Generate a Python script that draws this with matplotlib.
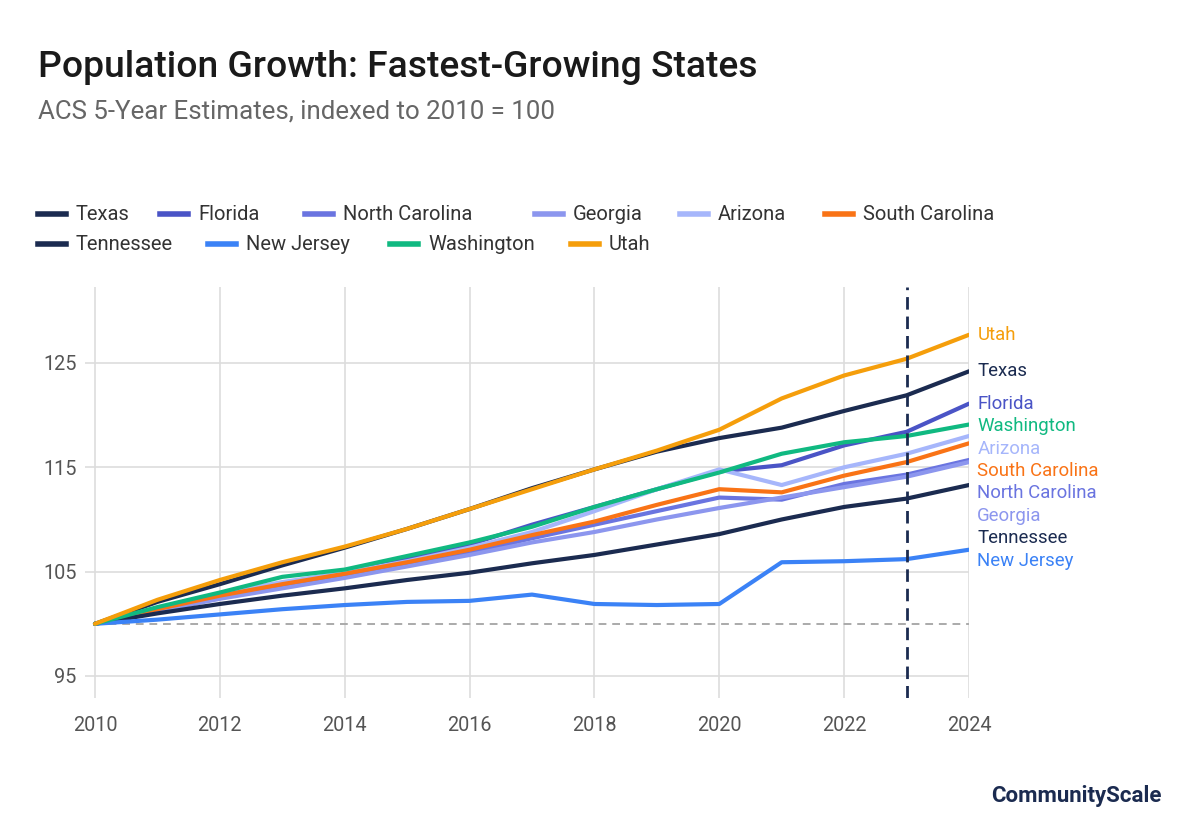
import matplotlib
matplotlib.use("Agg")
import matplotlib.pyplot as plt
from matplotlib.lines import Line2D

plt.rcParams['font.family'] = ['Roboto', 'DejaVu Sans']

years = list(range(2010, 2025))

states = ["Texas", "Florida", "North Carolina", "Georgia", "Arizona",
          "South Carolina", "Tennessee", "New Jersey", "Washington", "Utah"]

texas = [100, 102.1, 103.8, 105.6, 107.3, 109.1, 111.0, 113.0, 114.8, 116.5, 117.8, 118.8, 120.4, 121.9, 124.2]
florida = [100, 101.4, 102.6, 103.8, 104.8, 106.2, 107.6, 109.5, 111.2, 112.9, 114.6, 115.2, 117.1, 118.4, 121.1]
north_carolina = [100, 101.3, 102.5, 103.6, 104.6, 105.7, 106.8, 108.2, 109.5, 110.8, 112.1, 111.9, 113.4, 114.3, 115.7]
georgia = [100, 101.2, 102.4, 103.4, 104.4, 105.5, 106.6, 107.8, 108.8, 110.0, 111.1, 112.1, 113.1, 114.1, 115.5]
arizona = [100, 101.5, 102.9, 104.0, 104.9, 106.0, 107.3, 108.8, 110.8, 112.9, 114.8, 113.3, 115.0, 116.3, 118.0]
south_carolina = [100, 101.4, 102.7, 103.8, 104.8, 105.9, 107.1, 108.5, 109.8, 111.4, 112.9, 112.6, 114.2, 115.5, 117.3]
tennessee = [100, 101.0, 101.9, 102.7, 103.4, 104.2, 104.9, 105.8, 106.6, 107.6, 108.6, 110.0, 111.2, 112.0, 113.3]
new_jersey = [100, 100.4, 100.9, 101.4, 101.8, 102.1, 102.2, 102.8, 101.9, 101.8, 101.9, 105.9, 106.0, 106.2, 107.1]
washington = [100, 101.6, 103.0, 104.5, 105.2, 106.5, 107.8, 109.3, 111.2, 112.9, 114.5, 116.3, 117.4, 118.0, 119.1]
utah = [100, 102.3, 104.2, 105.9, 107.4, 109.1, 111.0, 112.9, 114.8, 116.6, 118.6, 121.6, 123.8, 125.4, 127.7]

series = [texas, florida, north_carolina, georgia, arizona,
          south_carolina, tennessee, new_jersey, washington, utah]

colors = ["#1b2b50", "#4a54c6", "#6a74e0", "#8c96ee", "#a6b6fb",
          "#f97316", "#1b2b50", "#3b82f6", "#10b981", "#f59e0b"]

y_ticks = [95, 105, 115, 125]
x_ticks = [2010, 2012, 2014, 2016, 2018, 2020, 2022, 2024]
marker_year = 2023
base_value = 100

fig = plt.figure(figsize=(12, 8.4), dpi=100)
ax = fig.add_axes([85/1200, 1 - 698/840, (969-85)/1200, (698-287)/840])

ax.set_xlim(2010 - 10/62.43, 2024)
ax.set_ylim(92.89, 132.28)

for sp in ax.spines.values():
    sp.set_visible(False)

ax.set_xticks(x_ticks)
ax.set_yticks(y_ticks)
ax.tick_params(length=0, labelsize=14.3, labelcolor="#555555")
ax.tick_params(axis='x', pad=13)
ax.tick_params(axis='y', pad=6)
ax.grid(True, color="#dddddd", linewidth=1.2)
ax.set_axisbelow(True)

ax.hlines(base_value, years[0], years[-1], colors="#aaaaaa", linestyles=(0, (4, 3)), linewidth=1.4, zorder=1)

for name, vals, c in zip(states, series, colors):
    ax.plot(years, vals, color=c, linewidth=3.0, solid_capstyle='round', zorder=3)

ax.axvline(marker_year, color="#1b2b50", linewidth=2.0, linestyle=(0, (4.5, 2.5)), zorder=4)

# end labels with simple de-overlap
order = sorted(range(len(states)), key=lambda i: -series[i][-1])
gap = 2.15
prev = None
for i in order:
    y = series[i][-1]
    if prev is not None and y > prev - gap:
        y = prev - gap
    prev = y
    ax.annotate(states[i], xy=(years[-1], y), xytext=(6, 0), textcoords='offset points',
                color=colors[i], fontsize=13.4, va='center', ha='left', annotation_clip=False)

# title/subtitle
fig.text(38/1200, 1 - 77/840, "Population Growth: Fastest-Growing States", fontsize=26.8,
         fontweight='medium', color="#1a1a1a", ha='left', va='baseline')
fig.text(38/1200, 1 - 119/840, "ACS 5-Year Estimates, indexed to 2010 = 100", fontsize=18.6,
         color="#666666", ha='left', va='baseline')

# legend (flow layout)
leg_pos = {
    "Texas": (38, 214), "Florida": (160, 214), "North Carolina": (305, 214),
    "Georgia": (535, 214), "Arizona": (680, 214), "South Carolina": (825, 214),
    "Tennessee": (38, 244), "New Jersey": (208, 244), "Washington": (390, 244),
    "Utah": (571, 244),
}
for name, c in zip(states, colors):
    px, py = leg_pos[name]
    fy = 1 - py/840
    fig.add_artist(Line2D([px/1200, (px+28)/1200], [fy, fy], color=c, linewidth=4,
                          transform=fig.transFigure))
    fig.text((px+38)/1200, fy, name, fontsize=14.5, color="#333333", ha='left', va='center')

fig.text(1162/1200, 1 - 796/840, "CommunityScale", fontsize=16, fontweight='bold',
         color="#1b2b50", ha='right', va='center')

fig.savefig("out.png", dpi=100, facecolor="white")
